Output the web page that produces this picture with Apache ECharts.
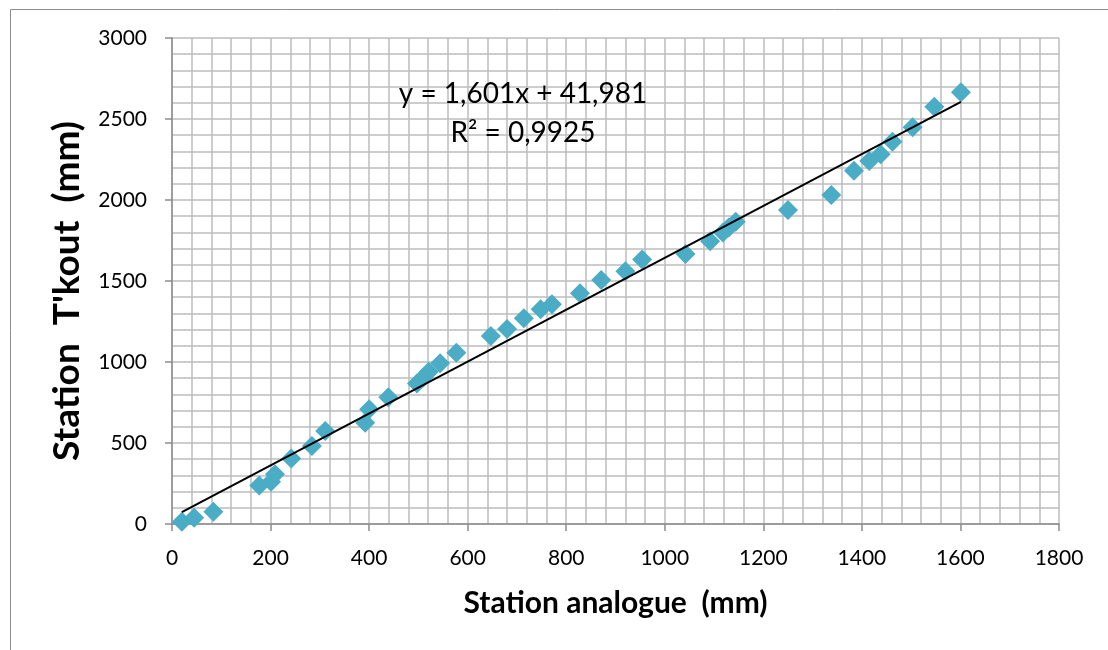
<!DOCTYPE html>
<html>
<head>
<meta charset="utf-8">
<script src="https://cdn.jsdelivr.net/npm/echarts@6/dist/echarts.min.js"></script>
<style>
html,body{margin:0;padding:0;background:#fff;}
#chart{width:1108px;height:650px;}
</style>
</head>
<body>
<div id="chart"></div>
<script>
// Data
const analogue = [20, 45, 84, 177, 201, 209, 242, 284, 311, 392, 400, 439, 497, 510, 521, 544, 577, 647, 680, 714, 748, 771, 828, 871, 920, 954, 1042, 1092, 1118, 1130, 1144, 1250, 1338, 1384, 1415, 1438, 1462, 1503, 1547, 1601];
const tkout    = [14, 39, 76, 237, 261, 307, 405, 481, 574, 625, 708, 782, 868, 905, 940, 992, 1057, 1160, 1204, 1270, 1325, 1356, 1424, 1506, 1560, 1632, 1667, 1746, 1800, 1830, 1866, 1938, 2031, 2181, 2240, 2283, 2360, 2449, 2576, 2665];
const slope = 1.601;
const intercept = 41.981;
const equationText = 'y = 1,601x + 41,981';
const r2Text = 'R² = 0,9925';
const xTitle = 'Station analogue  (mm)';
const yTitle = "Station  T'kout  (mm)";

const points = analogue.map((x, i) => [x, tkout[i]]);
const xMin = Math.min(...analogue), xMax = Math.max(...analogue);
const trend = [[xMin, slope * xMin + intercept], [xMax, slope * xMax + intercept]];

const font = 'Lato, "Open Sans", sans-serif';
const plain = v => String(v);
const chart = echarts.init(document.getElementById('chart'));
chart.setOption({
  animation: false,
  backgroundColor: '#fff',
  grid: { left: 172, right: 49, top: 38, bottom: 126 },
  xAxis: {
    type: 'value', min: 0, max: 1800, interval: 200,
    name: xTitle, nameLocation: 'middle', nameGap: 64,
    nameTextStyle: { fontFamily: font, fontWeight: 'bold', fontSize: 30, color: '#000' },
    axisLine: { show: true, lineStyle: { color: '#8c8c8c', width: 1.5 } },
    axisTick: { show: true, length: 7, lineStyle: { color: '#8c8c8c', width: 1.5 } },
    axisLabel: { fontFamily: font, fontSize: 21, color: '#000', margin: 24, formatter: plain },
    splitLine: { show: true, lineStyle: { color: '#bdbdbd', width: 1.5 } },
    minorTick: { show: false, splitNumber: 5 },
    minorSplitLine: { show: true, lineStyle: { color: '#bdbdbd', width: 1.5 } }
  },
  yAxis: {
    type: 'value', min: 0, max: 3000, interval: 500,
    axisLine: { show: true, lineStyle: { color: '#8c8c8c', width: 1.5 } },
    axisTick: { show: true, length: 7, lineStyle: { color: '#8c8c8c', width: 1.5 } },
    axisLabel: { fontFamily: font, fontSize: 21, color: '#000', margin: 25, formatter: plain },
    splitLine: { show: true, lineStyle: { color: '#bdbdbd', width: 1.5 } },
    minorTick: { show: false, splitNumber: 5 },
    minorSplitLine: { show: true, lineStyle: { color: '#bdbdbd', width: 1.5 } }
  },
  graphic: [
    { type: 'rect', left: 8, top: 7, shape: { width: 1120, height: 660 }, style: { fill: 'none', stroke: '#8c8c8c', lineWidth: 1 }, silent: true, z: -1 },
    { type: 'text', x: 67, y: 291, rotation: Math.PI / 2, style: { text: yTitle, font: 'bold 37px ' + font, fill: '#000', textAlign: 'center', textVerticalAlign: 'middle' }, z: 10 },
    { type: 'text', x: 523, y: 94, style: { text: equationText, font: '28px ' + font, fill: '#000', textAlign: 'center', textVerticalAlign: 'middle' }, z: 10 },
    { type: 'text', x: 523, y: 133, style: { text: r2Text, font: '28px ' + font, fill: '#000', textAlign: 'center', textVerticalAlign: 'middle' }, z: 10 }
  ],
  series: [
    {
      type: 'scatter', data: points, symbol: 'diamond', symbolSize: 20,
      itemStyle: { color: '#4bacc6', opacity: 1 }, z: 3
    },
    {
      type: 'line', data: trend, symbol: 'none',
      lineStyle: { color: '#000', width: 2 }, z: 4
    }
  ]
});
</script>
</body>
</html>
